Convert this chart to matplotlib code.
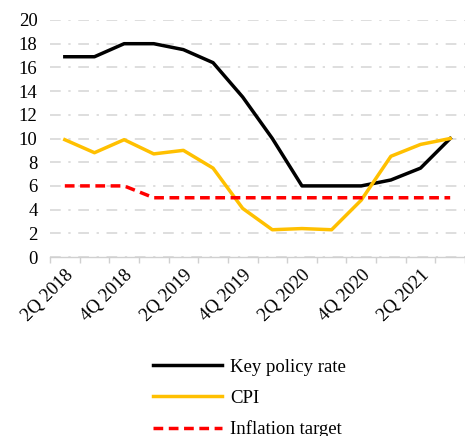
import matplotlib
matplotlib.use("Agg")
import matplotlib.pyplot as plt
import numpy as np

quarters = ["2Q 2018", "3Q 2018", "4Q 2018", "1Q 2019", "2Q 2019", "3Q 2019",
            "4Q 2019", "1Q 2020", "2Q 2020", "3Q 2020", "4Q 2020", "1Q 2021",
            "2Q 2021", "3Q 2021"]
key_rate = [16.9, 16.9, 18.0, 18.0, 17.5, 16.4, 13.5, 10.0, 6.0, 6.0, 6.0, 6.5, 7.5, 10.0]
cpi = [9.9, 8.8, 9.9, 8.7, 9.0, 7.5, 4.1, 2.3, 2.4, 2.3, 4.8, 8.5, 9.5, 10.0]
target = [6, 6, 6, 5, 5, 5, 5, 5, 5, 5, 5, 5, 5, 5]

plt.rcParams["font.family"] = ["Liberation Serif", "DejaVu Serif"]

fig = plt.figure(figsize=(4.65, 4.36), dpi=100)
ax = fig.add_axes([50 / 465, 1 - 257 / 436, 1 - 50 / 465, (257 - 20) / 436])

x = np.arange(len(quarters))
ax.plot(x, key_rate, color="black", lw=2.5, label="Key policy rate", zorder=3)
ax.plot(x, cpi, color="#FFC000", lw=2.5, label="CPI", zorder=3)
ax.plot(x, target, color="#FF0000", lw=2.5, ls=(0, (2.8, 1.6)), label="Inflation target", zorder=3)

ax.set_xlim(-0.5, len(quarters) - 0.5)
ax.set_ylim(0, 20)
ax.set_yticks(range(0, 21, 2))
ax.tick_params(axis="y", length=0, labelsize=13.5, pad=9)

ax.set_xticks(x[::2])
ax.set_xticklabels(quarters[::2], rotation=45, ha="right", rotation_mode="anchor")
ax.set_xticks(np.arange(-0.5, len(quarters), 1), minor=True)
ax.tick_params(axis="x", which="major", length=0, labelsize=13.5, pad=7)
ax.tick_params(axis="x", which="minor", length=4, color="#d0d0d0", width=1)

ax.grid(axis="y", color="#d4d4d4", lw=1.1, ls=(0, (7, 5, 1.5, 5)))
ax.set_axisbelow(True)
for s in ["left", "right", "top"]:
    ax.spines[s].set_visible(False)
ax.spines["bottom"].set_color("#d0d0d0")
ax.spines["bottom"].set_linewidth(1)

fig.legend(loc="upper left", bbox_to_anchor=(136 / 465, 1 - 342 / 436), frameon=False,
           fontsize=13.5, handlelength=3.7, labelspacing=0.73, handletextpad=0.4)

fig.savefig("out.png", dpi=100)
